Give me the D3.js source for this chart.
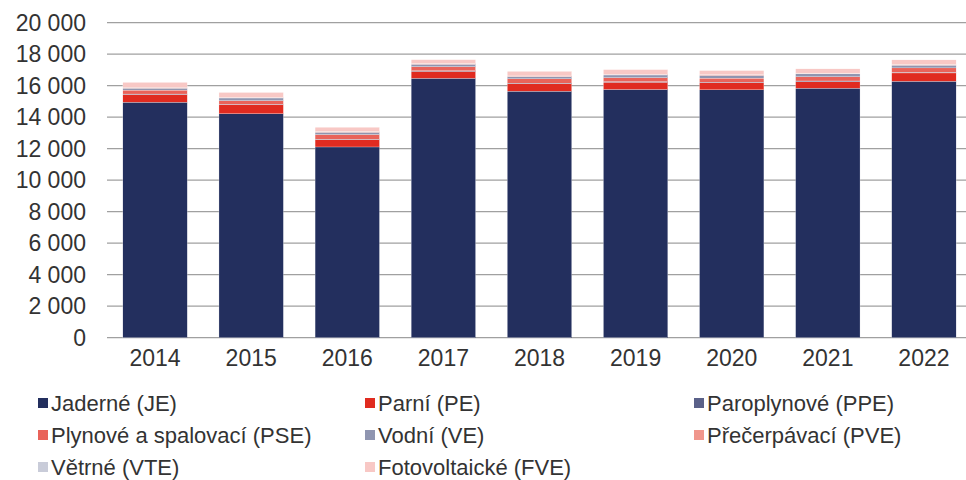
<!DOCTYPE html>
<html><head><meta charset="utf-8">
<script src="https://cdn.jsdelivr.net/npm/d3@7"></script>
<style>
html,body{margin:0;padding:0;background:#fff;}
svg{display:block;font-family:"Liberation Sans",Arial,sans-serif;}
</style></head>
<body><svg id="c" width="966" height="480"></svg>
<script>
const years = ["2014","2015","2016","2017","2018","2019","2020","2021","2022"];
const seriesNames = ["Jaderné (JE)","Parní (PE)","Paroplynové (PPE)","Plynové a spalovací (PSE)","Vodní (VE)","Přečerpávací (PVE)","Větrné (VTE)","Fotovoltaické (FVE)"];
const seriesKeys = ["JE","PE","PPE","PSE","VE","PVE","VTE","FVE"];
const JE  = [14950,14220,12110,16470,15650,15760,15740,15840,16280];
const PE  = [490,570,460,440,470,460,440,420,530];
const PPE = [30,30,30,40,40,40,40,40,40];
const PSE = [250,230,300,260,280,250,260,270,280];
const VE  = [120,170,140,150,130,170,170,180,170];
const PVE = [60,40,40,40,40,40,40,40,40];
const VTE = [10,10,10,10,10,10,10,10,10];
const FVE = [300,300,270,240,290,290,260,270,290];
const yTicks = [0,2000,4000,6000,8000,10000,12000,14000,16000,18000,20000];
const colors = ["#232f5e","#e02b20","#5a6189","#e9635a","#8f95b0","#f0968c","#c9ccd9","#f8c8c5"];

const seriesVals = [JE,PE,PPE,PSE,VE,PVE,VTE,FVE];
const rows = years.map((y,i)=>{const o={year:y}; seriesKeys.forEach((k,j)=>o[k]=seriesVals[j][i]); return o;});

const svg = d3.select("#c");
const x = d3.scaleBand().domain(years).range([107,972]).paddingInner(0.33).paddingOuter(0.165);
const y = d3.scaleLinear().domain([0,20000]).range([337.7,22.7]);
const fmt = v => d3.format(",")(v).replace(/,/g," ");

// gridlines
svg.append("g").selectAll("line").data(yTicks).join("line")
  .attr("x1",107).attr("x2",966)
  .attr("y1",d=>y(d)).attr("y2",d=>y(d))
  .attr("stroke","#a0a0a0").attr("stroke-width",1.3);

// y axis labels
const ya = svg.append("g").attr("transform","translate(86,0)")
  .call(d3.axisLeft(y).tickValues(yTicks).tickFormat(fmt).tickSize(0).tickPadding(0));
ya.select(".domain").remove();
ya.selectAll("text").attr("font-size",23).attr("fill","#333").attr("font-family","Liberation Sans, Arial, sans-serif");

// stacked bars
const stack = d3.stack().keys(seriesKeys)(rows);
svg.append("g").selectAll("g").data(stack).join("g")
  .attr("fill",(d,i)=>colors[i])
  .selectAll("rect").data(d=>d).join("rect")
  .attr("x",d=>x(d.data.year)).attr("width",x.bandwidth())
  .attr("y",d=>y(d[1])).attr("height",d=>Math.max(0,y(d[0])-y(d[1])))
  .attr("stroke","#ffffff").attr("stroke-width",0.25);

// x axis labels
const xa = svg.append("g").attr("transform","translate(0,345)")
  .call(d3.axisBottom(x).tickSize(0).tickPadding(0));
xa.select(".domain").remove();
xa.selectAll("text").attr("font-size",23).attr("fill","#333").attr("dy","0.9em").attr("font-family","Liberation Sans, Arial, sans-serif");

// legend
const colX = [38,365,694];
const rowY = [403,435,467];
const lg = svg.append("g").selectAll("g").data(seriesNames).join("g")
  .attr("transform",(d,i)=>`translate(${colX[i%3]},${rowY[Math.floor(i/3)]})`);
lg.append("rect").attr("x",0).attr("y",-5).attr("width",10).attr("height",10).attr("fill",(d,i)=>colors[i]);
lg.append("text").attr("x",13).attr("y",0).attr("dy","0.35em").attr("font-size",22).attr("fill","#333").text(d=>d);
</script></body></html>
